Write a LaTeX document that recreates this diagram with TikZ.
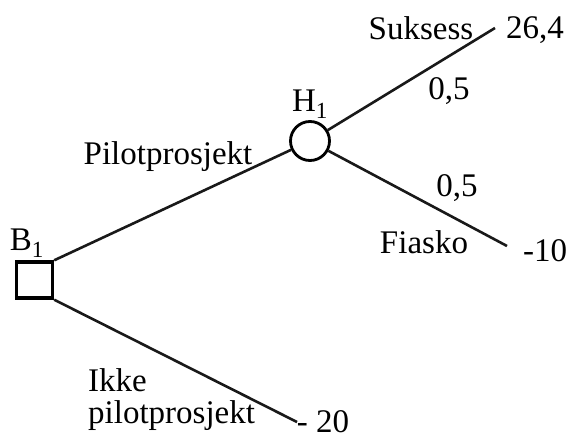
\documentclass[tikz,border=0pt]{standalone}
\usepackage{fontspec}
\setmainfont{Liberation Serif}
\begin{document}
\begin{tikzpicture}[x=1pt,y=-1pt,
  lbl/.style={inner sep=0pt, font=\fontsize{33}{32}\selectfont},
  edge/.style={line width=2.6pt, black!90},
]
\useasboundingbox (0,0) rectangle (573,439);
\node[draw, line width=3.4pt, minimum size=36pt, inner sep=0pt] (B) at (34.5,280) {};
\node[draw, circle, line width=2.8pt, minimum size=39pt, inner sep=0pt] (H) at (310,141) {};
\coordinate (S) at (495,28);
\coordinate (F) at (507,246);
\coordinate (I) at (297,422);
\draw[edge] (B.north east) -- (H);
\draw[edge] (H) -- (S);
\draw[edge] (H) -- (F);
\draw[edge] (B.south east) -- (I);
\node[lbl] (tB) at (27,243) {B\textsubscript{1}};
\node[lbl] (tH) at (310,104) {H\textsubscript{1}};
\node[lbl] (tP) at (168,157) {Pilotprosjekt};
\node[lbl] (tS) at (421,28) {Suksess};
\node[lbl] (tV1) at (535,30) {26,4};
\node[lbl] (tp1) at (449,91) {0,5};
\node[lbl] (tp2) at (457,188) {0,5};
\node[lbl] (tF) at (424,242) {Fiasko};
\node[lbl] (tV2) at (545,251) {-10};
\node[lbl, anchor=north west, align=left] (tI) at (88,368) {Ikke\\pilotprosjekt};
\node[lbl] (tV3) at (323,422) {- 20};
\end{tikzpicture}
\end{document}
